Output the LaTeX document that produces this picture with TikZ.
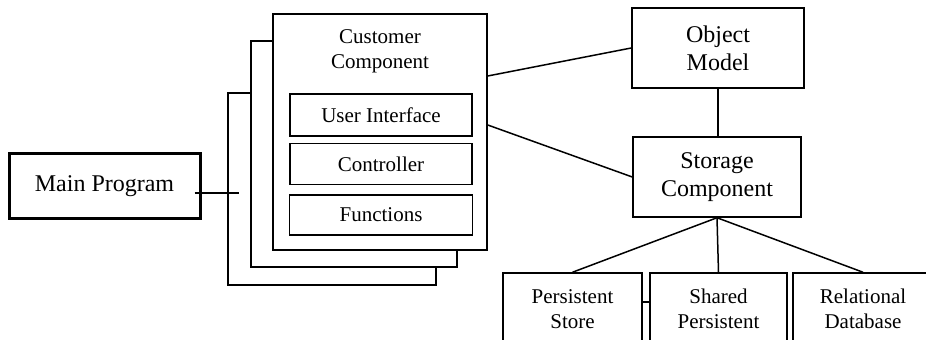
\documentclass[tikz,border=0pt]{standalone}
\usepackage{fontspec}
\setmainfont{Liberation Serif}
\usetikzlibrary{positioning,calc}

\begin{document}
\begin{tikzpicture}[x=0.5pt, y=-0.5pt,
  line width=0.75pt,
  every node/.style={font=\fontsize{10.5}{12.5}\selectfont},
  box/.style={draw, rectangle, inner sep=0pt, align=center},
  bigbox/.style={box, font=\fontsize{12}{14}\selectfont},
  stack/.style={draw, fill=white, inner sep=0pt}]
\useasboundingbox (0,0) rectangle (926,340);
\clip (0,0) rectangle (926,340);
% main program
\node[bigbox, line width=1.5pt, minimum width=95.5pt, minimum height=32.5pt] (main) at (104.5,186.5) {Main Program};
% customer component, stacked copies
\node[stack, minimum width=104pt, minimum height=96pt] (back2) at (332,189) {};
\node[stack, minimum width=103pt, minimum height=113pt] (back1) at (354,154) {};
\node[stack, minimum width=107pt, minimum height=118pt] (cust) at (380,132) {};
\node[align=center] (custlabel) at (380,51) {Customer\\Component};
\node[box, minimum width=91pt, minimum height=21pt] (ui) at (381,115) {User Interface};
\node[box, minimum width=91pt, minimum height=20.5pt, below=3pt of ui] (ctrl) {Controller};
\node[box, minimum width=91.5pt, minimum height=20pt, below=4.5pt of ctrl] (func) {Functions};
\coordinate (stub) at (239,193);
\draw ([xshift=-3.5pt]main.east |- stub) -- (stub);
% object model and storage
\node[bigbox, minimum width=86pt, minimum height=40pt] (om) at (718,48) {Object\\Model};
\node[bigbox, minimum width=84pt, minimum height=40pt] (store) at (717,177) {Storage\\Component};
\node[box, minimum width=69.5pt, minimum height=36pt] (pstore) at (572.5,309) {Persistent\\Store};
\node[box, minimum width=68.5pt, minimum height=36pt] (shared) at (718.5,309) {Shared\\Persistent};
\node[box, minimum width=70pt, minimum height=36pt] (rdb) at (863,309) {Relational\\Database};
\draw ([yshift=28pt]cust.east) -- (om.west);
\draw ([yshift=3.5pt]cust.east) -- (store.west);
\draw (om.south) -- (om.south |- store.north);
\foreach \leaf in {pstore, shared, rdb}
  \draw (store.south) -- (\leaf.north);
\draw ([yshift=3.5pt]pstore.east) -- ([yshift=3.5pt]shared.west);
\end{tikzpicture}
\end{document}
